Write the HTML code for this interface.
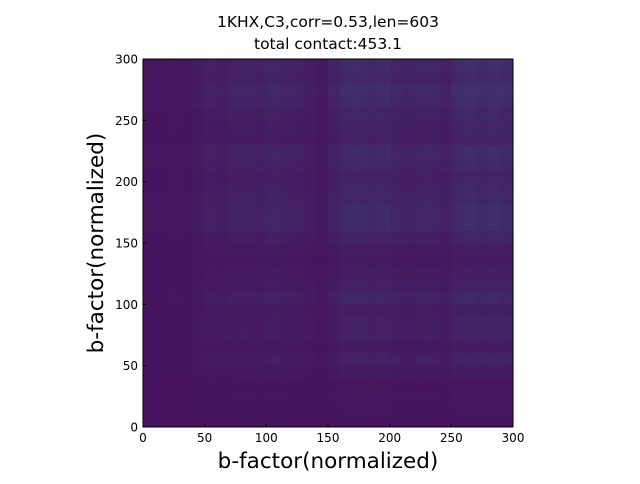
<!DOCTYPE html>
<html><head><meta charset="utf-8"><style>
body{margin:0;background:#fff;font-family:"DejaVu Sans","Liberation Sans",sans-serif}
</style></head><body>
<svg id="c" width="640" height="480" xmlns="http://www.w3.org/2000/svg" font-family="DejaVu Sans, Liberation Sans, sans-serif">
<text x="328" y="27" text-anchor="middle" font-size="15.5">1KHX,C3,corr=0.53,len=603</text>
<text x="328" y="49" text-anchor="middle" font-size="15.5">total contact:453.1</text>
<rect x="143" y="59" width="370" height="368" fill="#48145f"/>
<g id="cells"></g>
<g id="axes"></g>
<text x="328" y="468" text-anchor="middle" font-size="21.5">b-factor(normalized)</text>
<text x="0" y="0" transform="translate(103,243) rotate(-90)" text-anchor="middle" font-size="21.5">b-factor(normalized)</text>
</svg>
<script>
const binSize = 10;
const colActivity = [0.1,0.1,0.15,0.1,0.3,0.5,0.4,0.6,0.6,0.5,0.7,0.6,0.5,0.4,0.2,0.6,0.9,0.9,0.8,0.9,0.7,0.6,0.7,0.7,0.5,0.9,1.0,0.9,1.0,0.9];
const rowActivity = [0.05,0.1,0.15,0.1,0.3,0.5,0.3,0.5,0.5,0.4,0.7,0.5,0.4,0.3,0.4,0.6,0.9,0.9,0.8,0.7,0.6,0.8,0.9,0.5,0.6,0.7,0.9,1.0,0.8,0.9];
const xTicks = [0,50,100,150,200,250,300];
const yTicks = [0,50,100,150,200,250,300];
const NS="http://www.w3.org/2000/svg";
const x0=143,x1=513,y0=427,y1=59;
const xs=v=>x0+(v/300)*(x1-x0);
const ys=v=>y0-(v/300)*(y0-y1);
const cells=document.getElementById('cells');
for(let i=0;i<colActivity.length;i++){
  for(let j=0;j<rowActivity.length;j++){
    const v=colActivity[i]*rowActivity[j];
    const r=document.createElementNS(NS,'rect');
    
    
    r.setAttribute('x',xs(i*binSize));
    r.setAttribute('y',ys((j+1)*binSize));
    r.setAttribute('width',xs((i+1)*binSize)-xs(i*binSize)+0.3);
    r.setAttribute('height',ys(j*binSize)-ys((j+1)*binSize)+0.3);
    r.setAttribute('fill','#2a788e');
    r.setAttribute('fill-opacity',(v*0.28).toFixed(3));
    cells.appendChild(r);
  }
}
const ax=document.getElementById('axes');
function add(tag,attrs,txt){const e=document.createElementNS(NS,tag);for(const k in attrs)e.setAttribute(k,attrs[k]);if(txt!==undefined)e.textContent=txt;ax.appendChild(e);return e;}
const frame=add('rect',{x:x0,y:y1,width:x1-x0,height:y0-y1,fill:'none',stroke:'#000','stroke-width':1});


xTicks.forEach(t=>{
  const l=add('line',{x1:xs(t),x2:xs(t),y1:y0,y2:y0-3.5,stroke:'#000'});
  
  
  const tx=add('text',{x:xs(t),y:y0+15,'text-anchor':'middle','font-size':12},t);
  
  
});
yTicks.forEach(t=>{
  const l=add('line',{x1:x0,x2:x0+3.5,y1:ys(t),y2:ys(t),stroke:'#000'});
  
  
  const tx=add('text',{x:x0-5,y:ys(t)+4.5,'text-anchor':'end','font-size':12},t);
  
  
});
</script>
</body></html>
